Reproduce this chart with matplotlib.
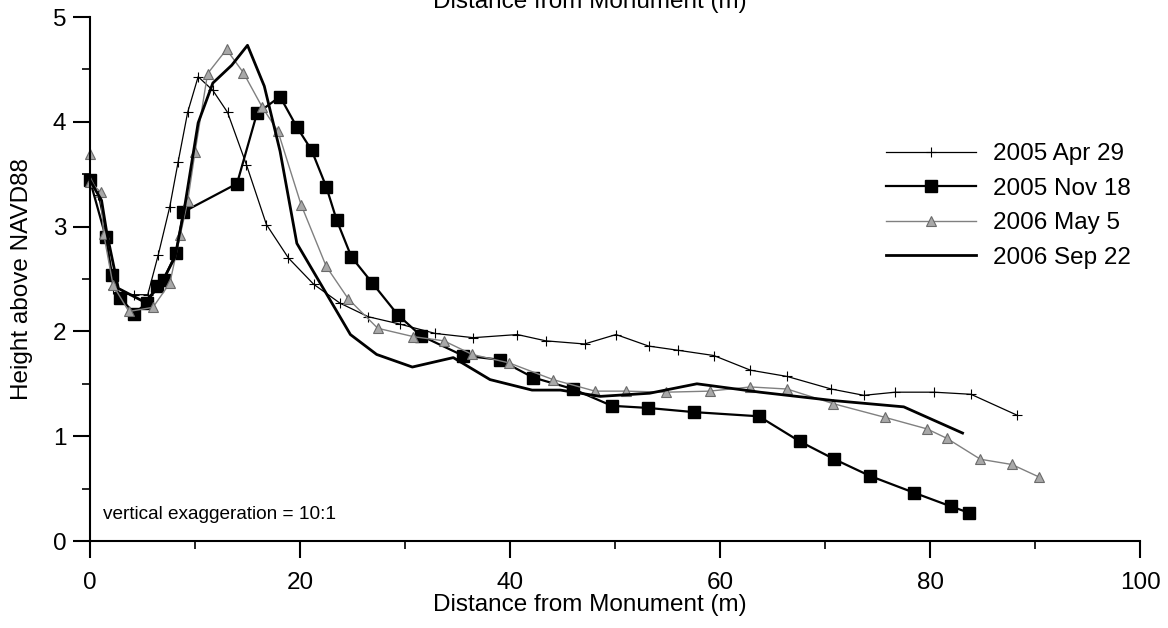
import matplotlib
matplotlib.use("Agg")
import matplotlib.pyplot as plt
from matplotlib.ticker import MultipleLocator

plt.rcParams['font.family'] = ['Liberation Sans', 'DejaVu Sans']

# 2005 Apr 29
apr_x = [0, 0.8, 1.6, 2.2, 3.0, 4.2, 5.5, 6.5, 7.6, 8.4, 9.3, 10.3, 11.7, 13.1, 14.9,
         16.8, 18.9, 21.3, 23.8, 26.5, 29.5, 32.9, 36.5, 40.7, 43.4, 47.1, 50.1, 53.2,
         56.0, 59.4, 62.9, 66.4, 70.6, 73.7, 76.7, 80.4, 83.9, 88.3]
apr_y = [3.45, 3.30, 2.90, 2.40, 2.36, 2.35, 2.35, 2.73, 3.19, 3.62, 4.09, 4.43, 4.30,
         4.09, 3.59, 3.02, 2.70, 2.45, 2.27, 2.14, 2.07, 1.98, 1.94, 1.97, 1.91, 1.88,
         1.97, 1.86, 1.82, 1.77, 1.63, 1.57, 1.45, 1.39, 1.42, 1.42, 1.40, 1.20]

# 2005 Nov 18
nov_x = [0, 1.5, 2.1, 2.9, 4.2, 5.4, 6.4, 7.0, 8.2, 8.9, 14.0, 15.9, 18.1, 19.7, 21.1,
         22.5, 23.5, 24.9, 26.9, 29.3, 31.5, 35.5, 39.0, 42.2, 46.0, 49.7, 53.1, 57.5,
         63.7, 67.6, 70.9, 74.3, 78.5, 82.0, 83.7]
nov_y = [3.44, 2.90, 2.54, 2.32, 2.17, 2.27, 2.43, 2.49, 2.75, 3.14, 3.41, 4.08, 4.24,
         3.95, 3.73, 3.38, 3.06, 2.71, 2.46, 2.16, 1.96, 1.77, 1.73, 1.56, 1.45, 1.29,
         1.27, 1.23, 1.19, 0.95, 0.78, 0.62, 0.46, 0.33, 0.27]

# 2006 May 5
may_x = [0, 0, 1.0, 1.3, 2.2, 3.7, 6.0, 7.6, 8.6, 9.3, 10.0, 11.2, 13.0, 14.6, 16.4,
         17.9, 20.1, 22.5, 24.6, 27.4, 30.8, 33.7, 36.4, 39.9, 44.1, 48.1, 51.0, 54.9,
         59.0, 62.9, 66.4, 70.8, 75.7, 79.7, 81.6, 84.8, 87.8, 90.4]
may_y = [3.69, 3.43, 3.33, 2.93, 2.44, 2.19, 2.23, 2.46, 2.92, 3.24, 3.71, 4.46, 4.69,
         4.47, 4.14, 3.91, 3.21, 2.62, 2.31, 2.03, 1.95, 1.91, 1.78, 1.70, 1.54, 1.43,
         1.43, 1.42, 1.43, 1.47, 1.45, 1.31, 1.18, 1.07, 0.98, 0.78, 0.73, 0.61]

# 2006 Sep 22
sep_x = [0, 1.1, 1.6, 2.7, 5.2, 6.7, 8.1, 9.0, 10.3, 11.7, 13.5, 15.0, 16.6, 18.1, 19.7,
         24.8, 27.3, 30.7, 34.6, 38.1, 42.1, 44.8, 48.6, 53.3, 57.8, 63.8, 70.8, 77.5, 83.1]
sep_y = [3.44, 3.25, 2.94, 2.41, 2.28, 2.44, 2.71, 3.18, 3.99, 4.37, 4.54, 4.73, 4.34,
         3.72, 2.84, 1.97, 1.78, 1.66, 1.75, 1.54, 1.44, 1.44, 1.38, 1.41, 1.50, 1.42,
         1.34, 1.28, 1.03]

fig = plt.figure(figsize=(11.68, 6.28), dpi=100)
ax = fig.add_axes([90/1168, 1-541/628, 1050/1168, 524/628])

ax.plot(apr_x, apr_y, color='black', lw=0.9, marker='+', ms=7, mew=0.8,
        label='2005 Apr 29', clip_on=False)
ax.plot(nov_x, nov_y, color='black', lw=1.6, marker='s', ms=8.5,
        label='2005 Nov 18', clip_on=False)
ax.plot(may_x, may_y, color='#808080', lw=1.0, marker='^', ms=7,
        mfc='#a8a8a8', mec='#6a6a6a', mew=0.8, label='2006 May 5', clip_on=False)
ax.plot(sep_x, sep_y, color='black', lw=2.0, label='2006 Sep 22', clip_on=False)

ax.set_xlim(0, 100)
ax.set_ylim(0, 5)
ax.xaxis.set_major_locator(MultipleLocator(20))
ax.xaxis.set_minor_locator(MultipleLocator(10))
ax.yaxis.set_major_locator(MultipleLocator(1))
ax.yaxis.set_minor_locator(MultipleLocator(0.5))
for s in ['top', 'right']:
    ax.spines[s].set_visible(False)
for s in ['left', 'bottom']:
    ax.spines[s].set_linewidth(1.5)
ax.tick_params(which='major', direction='out', length=12, width=1.5,
               labelsize=17.5, pad=5)
ax.tick_params(axis='x', which='major', pad=10)
ax.tick_params(which='minor', direction='out', length=6, width=1.2)

ax.set_xlabel('Distance from Monument (m)', fontsize=17.5)
ax.xaxis.set_label_coords(0.476, -0.101)
ax.set_ylabel('Height above NAVD88', fontsize=17.5, labelpad=14)

# cut-off top axis title
fig.text(0.505, 1 - 8/628, 'Distance from Monument (m)', fontsize=17.5,
         ha='center', va='baseline')

ax.text(1.2, 0.257, 'vertical exaggeration = 10:1', fontsize=13.7, va='center')

ax.legend(loc='upper left', bbox_to_anchor=(886/1168, 1 - 143/628),
          bbox_transform=fig.transFigure, frameon=False, fontsize=17.5,
          handlelength=3.7, handletextpad=0.7, labelspacing=0.52,
          borderpad=0, borderaxespad=0)

fig.savefig('out.png', dpi=100)
